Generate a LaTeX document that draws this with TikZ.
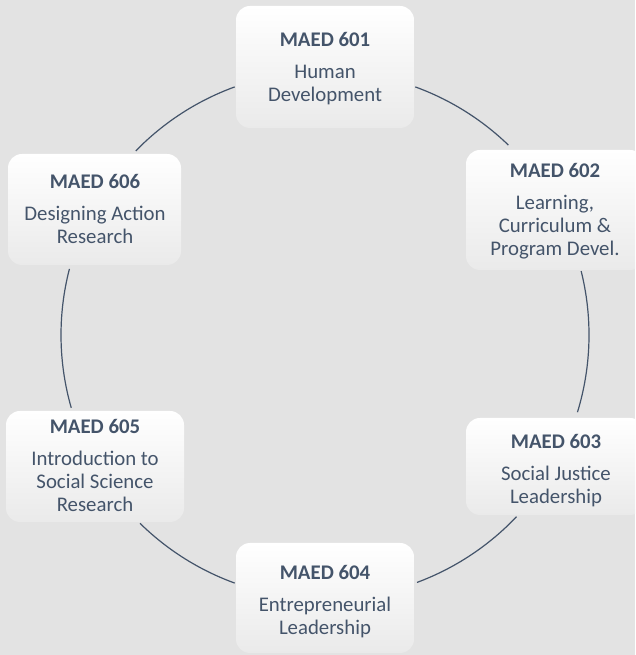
\documentclass[tikz,border=0pt]{standalone}
\usepackage{fontspec}
\setmainfont{Carlito}
\begin{document}
\begin{tikzpicture}[x=1pt,y=1pt,
  box/.style={rectangle, rounded corners=14pt, inner sep=0pt, draw=none,
    top color=white, middle color=white, bottom color=boxbot},
  label/.style={anchor=base, inner sep=0pt, text=slate,
    font=\fontsize{20.8}{23}\selectfont},
  ring/.style={draw=slate, line width=1.2pt}
]
\definecolor{slate}{HTML}{44546A}
\definecolor{boxbot}{HTML}{EAEAEA}
\definecolor{bg}{HTML}{E3E3E3}
\useasboundingbox (0,0) rectangle (635,655);
\clip (0,0) rectangle (635,655);
\fill[bg] (0,0) rectangle (635,655);
\coordinate (C) at (325,320);
% ring segments
\draw[ring] (C) ++(70:264) arc[start angle=70, end angle=46, radius=264pt];
\draw[ring] (C) ++(14:264) arc[start angle=14, end angle=-17, radius=264pt];
\draw[ring] (C) ++(-43.5:264) arc[start angle=-43.5, end angle=-69.6, radius=264pt];
\draw[ring] (C) ++(-110:264) arc[start angle=-110, end angle=-134.5, radius=264pt];
\draw[ring] (C) ++(165.5:264) arc[start angle=165.5, end angle=196, radius=264pt];
\draw[ring] (C) ++(135.8:264) arc[start angle=135.8, end angle=110, radius=264pt];
% boxes
\node[box, minimum width=178pt, minimum height=122pt] (b601) at (325,588) {};
\node[box, minimum width=178pt, minimum height=120pt] (b602) at (555,445) {};
\node[box, minimum width=178pt, minimum height=97pt] (b603) at (555,188.5) {};
\node[box, minimum width=178pt, minimum height=110pt] (b604) at (325,57) {};
\node[box, minimum width=178pt, minimum height=111pt] (b605) at (95,188.5) {};
\node[box, minimum width=173pt, minimum height=111pt] (b606) at (94.5,445.5) {};
% labels
\node[label] (t601) at (325,608.3) {\begin{tabular}[t]{@{}c@{}}\textbf{MAED 601}\\[9pt]Human\\Development\end{tabular}};
\node[label] (t602) at (555,477.7) {\begin{tabular}[t]{@{}c@{}}\textbf{MAED 602}\\[9pt]Learning,\\Curriculum \&\\Program Devel.\end{tabular}};
\node[label] (t603) at (556,206.7) {\begin{tabular}[t]{@{}c@{}}\textbf{MAED 603}\\[9pt]Social Justice\\Leadership\end{tabular}};
\node[label] (t604) at (325,75.7) {\begin{tabular}[t]{@{}c@{}}\textbf{MAED 604}\\[9pt]Entrepreneurial\\Leadership\end{tabular}};
\node[label] (t605) at (95,221.7) {\begin{tabular}[t]{@{}c@{}}\textbf{MAED 605}\\[9pt]Introduction to\\Social Science\\Research\end{tabular}};
\node[label] (t606) at (95,466.7) {\begin{tabular}[t]{@{}c@{}}\textbf{MAED 606}\\[9pt]Designing Action\\Research\end{tabular}};
\end{tikzpicture}
\end{document}
